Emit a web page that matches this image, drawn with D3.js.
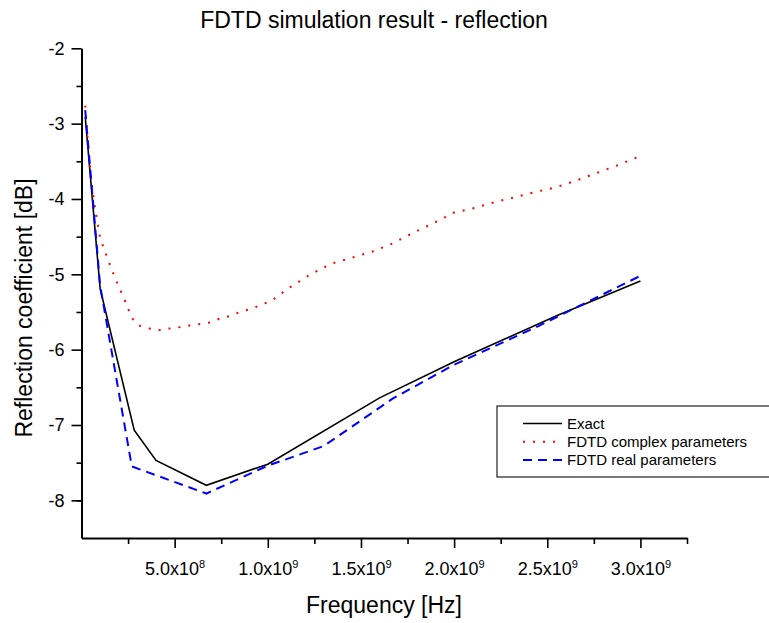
<!DOCTYPE html>
<html>
<head>
<meta charset="utf-8">
<script src="https://cdn.jsdelivr.net/npm/d3@7"></script>
<style>
  body { margin: 0; background: #fff; }
  svg { font-family: "Liberation Sans", Arial, sans-serif; }
</style>
</head>
<body>
<svg id="chart" width="769" height="623"></svg>
<script>
// Values (frequency in Hz, reflection in dB)
var exactFreq = [2e7, 1e8, 2.83e8, 4e8, 6.7e8, 1e9, 1.6e9, 2e9, 2.55e9, 3e9];
var exactDb = [-2.91, -5.19, -7.07, -7.47, -7.80, -7.52, -6.64, -6.16, -5.55, -5.09];

var complexFreq = [2e7, 3.5e7, 5e7, 7e7, 1e8, 1.4e8, 1.8e8, 2.3e8, 2.7e8, 3.1e8, 3.6e8, 4.2e8,
    4.7e8, 5.3e8, 5.8e8, 6.4e8, 6.9e8, 7.4e8, 8e8, 8.5e8, 9.1e8, 9.6e8, 1.02e9, 1.12e9,
    1.23e9, 1.34e9, 1.45e9, 1.56e9, 1.67e9, 1.78e9, 1.89e9, 2e9, 2.11e9, 2.22e9, 2.32e9,
    2.43e9, 2.54e9, 2.65e9, 2.76e9, 2.87e9, 2.98e9];
var complexDb = [-2.76, -3.28, -3.71, -4.08, -4.52, -4.79, -5.05, -5.33, -5.58, -5.68, -5.72, -5.74,
    -5.72, -5.70, -5.68, -5.66, -5.64, -5.59, -5.55, -5.50, -5.46, -5.41, -5.35, -5.17,
    -5.00, -4.86, -4.78, -4.70, -4.59, -4.45, -4.32, -4.18, -4.12, -4.04, -3.98,
    -3.91, -3.85, -3.76, -3.66, -3.56, -3.45];

var realFreq = [2e7, 1e8, 2.7e8, 6.7e8, 1e9, 1.3e9, 1.67e9, 2e9, 2.45e9, 3e9];
var realDb = [-2.82, -5.15, -7.55, -7.91, -7.54, -7.28, -6.65, -6.20, -5.69, -5.02];

var xMajor = [5e8, 1e9, 1.5e9, 2e9, 2.5e9, 3e9];
var xMajorText = ["5.0x10", "1.0x10", "1.5x10", "2.0x10", "2.5x10", "3.0x10"];
var xMajorExp = ["8", "9", "9", "9", "9", "9"];
var xMinor = [2.5e8, 7.5e8, 1.25e9, 1.75e9, 2.25e9, 2.75e9, 3.25e9];
var yMajor = [-2, -3, -4, -5, -6, -7, -8];
var yMinor = [-2.5, -3.5, -4.5, -5.5, -6.5, -7.5, -8];

var legendLabels = ["Exact", "FDTD complex parameters", "FDTD real parameters"];
var lineColors = ["#000000", "#ff0000", "#0000ff"];
var lineDash = ["none", "2,8", "9,6"];
var lineWidths = [1.6, 2, 2];

var fontName = '"Liberation Sans", Arial, sans-serif';
var svg = d3.select('#chart');

var xScale = d3.scaleLinear().domain([0, 3.25e9]).range([81.5, 687]);
var yScale = d3.scaleLinear().domain([-8.5, -2]).range([538, 48.3]);

// Title and axis titles
svg.append("text")
    .attr("x", 374).attr("y", 28)
    .attr("text-anchor", "middle")
    .style("font-size", "23px")
    .text("FDTD simulation result - reflection");

svg.append("text")
    .attr("x", 384).attr("y", 613)
    .attr("text-anchor", "middle")
    .style("font-size", "23px")
    .text("Frequency [Hz]");

svg.append("text")
    .attr("transform", "translate(32,308) rotate(-90)")
    .attr("text-anchor", "middle")
    .style("font-size", "23px")
    .text("Reflection coefficient [dB]");

// Minor ticks first, then the major ones with labels
svg.append("g")
    .attr("transform", "translate(0," + yScale(-8.5) + ")")
    .call(d3.axisBottom(xScale).tickValues(xMinor).tickSize(6).tickSizeOuter(0).tickFormat(""))
    .call(function(g){ g.select(".domain").remove(); });

svg.append("g")
    .attr("transform", "translate(" + xScale(0) + ",0)")
    .call(d3.axisLeft(yScale).tickValues(yMinor).tickSize(5).tickSizeOuter(0).tickFormat(""))
    .call(function(g){ g.select(".domain").remove(); });

var xAxis = svg.append("g")
    .attr("transform", "translate(0," + yScale(-8.5) + ")")
    .call(d3.axisBottom(xScale).tickValues(xMajor).tickSize(10).tickSizeOuter(0).tickPadding(14).tickFormat(""));

// x labels get a superscript exponent
xAxis.selectAll(".tick text").each(function(d, i){
    var t = d3.select(this);
    t.append("tspan").text(xMajorText[i]);
    t.append("tspan").attr("dy", "-0.6em").style("font-size", "11px").text(xMajorExp[i]);
});

var yAxis = svg.append("g")
    .attr("transform", "translate(" + xScale(0) + ",0)")
    .call(d3.axisLeft(yScale).tickValues(yMajor).tickSize(10).tickSizeOuter(0).tickPadding(7)
        .tickFormat(function(d){ return d3.format("d")(d).replace("\u2212", "-"); }));

// d3 puts sans-serif / 10px on the axis groups, override it
svg.selectAll("g").attr("font-family", fontName).attr("font-size", null);
svg.selectAll(".tick text").style("font-size", "18px").attr("fill", "#000");
svg.selectAll(".tick line").attr("stroke", "#000").attr("stroke-width", 1.6);
svg.selectAll(".domain").attr("stroke", "#000").attr("stroke-width", 2);

// Curves
var seriesFreq = [exactFreq, complexFreq, realFreq];
var seriesDb = [exactDb, complexDb, realDb];

var lineFunc = d3.line()
    .x(function(d) { return xScale(d[0]); })
    .y(function(d) { return yScale(d[1]); });

for(var j = 0; j < seriesFreq.length; j++){
    var pts = seriesFreq[j].map(function(f, i){ return [f, seriesDb[j][i]]; });
    svg.append("path")
        .attr("d", lineFunc(pts))
        .attr("fill", "none")
        .attr("stroke", lineColors[j])
        .attr("stroke-width", lineWidths[j])
        .attr("stroke-dasharray", lineDash[j]);
}

// Legend box, runs off the right edge like the original
var legend = svg.append("g").attr("transform", "translate(497,406)");
legend.append("rect")
    .attr("x", 0).attr("y", 0)
    .attr("width", 290).attr("height", 71)
    .attr("fill", "#fff")
    .attr("stroke", "#222")
    .attr("stroke-width", 1.2);

for(var k = 0; k < legendLabels.length; k++){
    var ly = 17.5 + 18.3 * k;
    legend.append("line")
        .attr("x1", 26).attr("x2", 65)
        .attr("y1", ly).attr("y2", ly)
        .attr("stroke", lineColors[k])
        .attr("stroke-width", lineWidths[k])
        .attr("stroke-dasharray", lineDash[k]);
    legend.append("text")
        .attr("x", 70).attr("y", ly + 5)
        .style("font-size", "15px")
        .text(legendLabels[k]);
}
</script>
</body>
</html>
